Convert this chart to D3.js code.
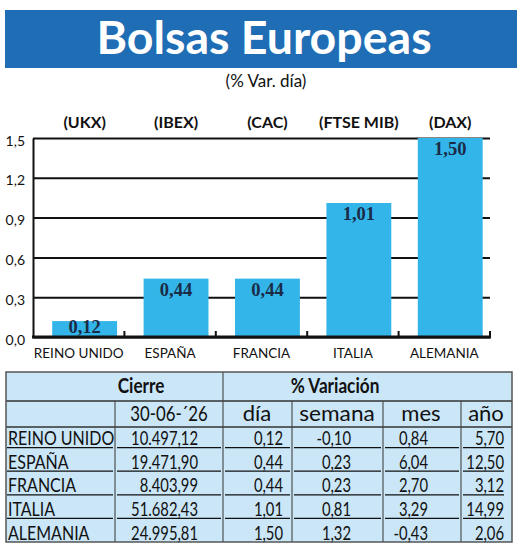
<!DOCTYPE html>
<html>
<head>
<meta charset="utf-8">
<script src="https://cdn.jsdelivr.net/npm/d3@7"></script>
<style>
  body { margin: 0; background: #fff; }
  svg { display: block; }
  text { font-family: Lato, sans-serif; }
</style>
</head>
<body>
<svg id="chart" width="520" height="551"></svg>
<script>
  // datos
  var categories = ["REINO UNIDO", "ESPAÑA", "FRANCIA", "ITALIA", "ALEMANIA"];
  var indices = ["(UKX)", "(IBEX)", "(CAC)", "(FTSE MIB)", "(DAX)"];
  var varDia = [0.12, 0.44, 0.44, 1.01, 1.50];
  var yTicks = [0, 0.3, 0.6, 0.9, 1.2, 1.5];
  var fechaCierre = "30-06-´26";
  var cierre = [10497.12, 19471.90, 8403.99, 51682.43, 24995.81];
  var varSemana = [-0.10, 0.23, 0.23, 0.81, 1.32];
  var varMes = [0.84, 6.04, 2.70, 3.29, -0.43];
  var varAnio = [5.70, 12.50, 3.12, 14.99, 2.06];

  var es = d3.formatLocale({ decimal: ",", thousands: ".", grouping: [3], currency: ["", " €"], minus: "-" });
  var fmt2 = es.format(",.2f");
  var fmt1 = es.format(".1f");

  var svg = d3.select("#chart");
  var ink = "#111";

  // texto estrecho: la fuente original es condensada
  function squeeze(sel, sx, px, py) {
    sel.attr("transform", function (d, i) {
      var s = typeof sx === "function" ? sx(d, i) : sx;
      return "translate(" + px(d, i) + "," + py(d, i) + ") scale(" + s + ",1)";
    });
  }

  // cabecera
  svg.append("rect")
      .attr("x", 5).attr("y", 10).attr("width", 512).attr("height", 58)
      .attr("fill", "#1f6db5");
  svg.append("text")
      .attr("x", 264).attr("y", 54)
      .attr("text-anchor", "middle")
      .attr("fill", "#fff")
      .style("font-size", "46.5px").style("font-weight", "bold")
      .text("Bolsas Europeas");
  svg.append("text")
      .attr("x", 266).attr("y", 87)
      .attr("text-anchor", "middle")
      .attr("fill", ink)
      .style("font-size", "17px")
      .text("(% Var. día)");

  // grafico de barras
  var x = d3.scaleBand().domain(categories).range([33, 490]);
  var y = d3.scaleLinear().domain([0, 1.5]).range([337, 138]);
  var bw = x.bandwidth();
  var barOffset = bw * 0.21, barW = bw * 0.71;

  var yAxis = svg.append("g")
      .attr("transform", "translate(33,0)")
      .call(d3.axisLeft(y)
          .tickValues(yTicks)
          .tickFormat(fmt1)
          .tickSize(-(490 - 33))
          .tickSizeOuter(0)
          .tickPadding(8));
  yAxis.select(".domain").attr("stroke", ink).attr("stroke-width", 2);
  yAxis.selectAll(".tick line").attr("stroke", ink).attr("stroke-width", 2);
  yAxis.selectAll(".tick text")
      .attr("dy", "0.5em")
      .attr("fill", ink)
      .style("font-family", "Lato, sans-serif")
      .style("font-size", "14px");

  var bars = svg.append("g").selectAll("g").data(categories).join("g");
  bars.append("rect")
      .attr("x", function (d) { return x(d) + barOffset; })
      .attr("width", barW)
      .attr("y", function (d, i) { return y(varDia[i]); })
      .attr("height", function (d, i) { return y(0) - y(varDia[i]); })
      .attr("fill", "#34b5e9");
  bars.append("text")
      .attr("x", function (d) { return x(d) + barOffset + barW / 2; })
      .attr("y", function (d, i) { return Math.min(y(varDia[i]) + 17, y(0) - 4); })
      .attr("text-anchor", "middle")
      .attr("fill", "#1a2b47")
      .style("font-family", "'Liberation Serif', serif")
      .style("font-size", "18.5px").style("font-weight", "bold")
      .text(function (d, i) { return fmt2(varDia[i]); });
  bars.append("text")
      .attr("x", function (d) { return x(d) + barOffset + barW / 2; })
      .attr("y", 128)
      .attr("text-anchor", "middle")
      .attr("fill", ink)
      .style("font-size", "16px").style("font-weight", "bold")
      .text(function (d, i) { return indices[i]; });

  var xAxis = svg.append("g")
      .attr("transform", "translate(0," + y(0) + ")")
      .call(d3.axisBottom(x).tickSize(0).tickPadding(11));
  xAxis.select(".domain").remove();
  xAxis.selectAll(".tick text")
      .attr("fill", ink)
      .style("font-family", "Lato, sans-serif")
      .style("font-size", "13.5px");
  svg.append("line")
      .attr("x1", 32).attr("x2", 491)
      .attr("y1", y(0)).attr("y2", y(0))
      .attr("stroke", ink).attr("stroke-width", 3);
  svg.append("g").selectAll("line").data(categories).join("line")
      .attr("x1", function (d) { return x(d) + bw; })
      .attr("x2", function (d) { return x(d) + bw; })
      .attr("y1", y(0)).attr("y2", y(0) - 6)
      .attr("stroke", ink).attr("stroke-width", 2);

  // tabla
  var tx0 = 6, tx1 = 512, ty0 = 372, ty1 = 542;
  var rows = d3.scaleBand().domain(categories).range([424, ty1]);
  var rh = rows.bandwidth();
  var table = svg.append("g");

  table.append("rect")
      .attr("x", tx0).attr("y", ty0).attr("width", tx1 - tx0).attr("height", ty1 - ty0)
      .attr("fill", "#cae6f7");

  var hLines = [401, 427];
  table.selectAll("line.h").data(hLines).join("line")
      .attr("class", "h")
      .attr("x1", tx0).attr("x2", tx1)
      .attr("y1", function (d) { return d; }).attr("y2", function (d) { return d; })
      .attr("stroke", "#333").attr("stroke-width", 1.3);

  var vLines = [[115, 401], [223, ty0], [292, 401], [383, 401], [461, 401]];
  table.selectAll("line.v").data(vLines).join("line")
      .attr("class", "v")
      .attr("x1", function (d) { return d[0]; }).attr("x2", function (d) { return d[0]; })
      .attr("y1", function (d) { return d[1]; }).attr("y2", ty1)
      .attr("stroke", "#444").attr("stroke-width", 1.1);

  table.append("rect")
      .attr("x", tx0).attr("y", ty0).attr("width", tx1 - tx0).attr("height", ty1 - ty0)
      .attr("fill", "none").attr("stroke", "#555").attr("stroke-width", 1.5);

  var groupHeads = [["Cierre", 141], ["% Variación", 335]];
  table.selectAll("text.g").data(groupHeads).join("text")
      .attr("class", "g")
      .attr("text-anchor", "middle")
      .attr("fill", ink)
      .style("font-size", "20px").style("font-weight", "bold")
      .text(function (d) { return d[0]; })
      .call(squeeze, 0.86, function (d) { return d[1]; }, function () { return 393; });

  var subHeads = [[fechaCierre, 169, 0.8], ["día", 257, 1.05], ["semana", 337, 1.08], ["mes", 421, 1.05], ["año", 486, 1.05]];
  table.selectAll("text.s").data(subHeads).join("text")
      .attr("class", "s")
      .attr("text-anchor", "middle")
      .attr("fill", ink)
      .style("font-size", "21px")
      .text(function (d) { return d[0]; })
      .call(squeeze, function (d) { return d[2]; }, function (d) { return d[1]; }, function () { return 421; });

  var columns = [
    { vals: categories, fmt: String, x: 8, anchor: "start", sx: 0.82, x0: 7, x1: 113 },
    { vals: cierre, fmt: fmt2, x: 198, anchor: "end", sx: 0.76, x0: 117, x1: 221 },
    { vals: varDia, fmt: fmt2, x: 283, anchor: "end", sx: 0.76, x0: 225, x1: 290 },
    { vals: varSemana, fmt: fmt2, x: 351, anchor: "end", sx: 0.76, x0: 294, x1: 381 },
    { vals: varMes, fmt: fmt2, x: 428, anchor: "end", sx: 0.76, x0: 385, x1: 459 },
    { vals: varAnio, fmt: fmt2, x: 504, anchor: "end", sx: 0.76, x0: 463, x1: 504 }
  ];

  columns.forEach(function (col) {
    var g = table.append("g");
    g.selectAll("text").data(col.vals).join("text")
        .attr("text-anchor", col.anchor)
        .attr("fill", ink)
        .style("font-size", "19.5px")
        .text(function (d) { return col.fmt(d); })
        .call(squeeze, col.sx,
            function () { return col.x; },
            function (d, i) { return rows(categories[i]) + rh - 2.5; });
    g.selectAll("line").data(col.vals.slice(0, col.vals.length - 1)).join("line")
        .attr("x1", col.x0).attr("x2", col.x1)
        .attr("y1", function (d, i) { return rows(categories[i]) + rh; })
        .attr("y2", function (d, i) { return rows(categories[i]) + rh; })
        .attr("stroke", ink).attr("stroke-width", 1.2);
  });
</script>
</body>
</html>
